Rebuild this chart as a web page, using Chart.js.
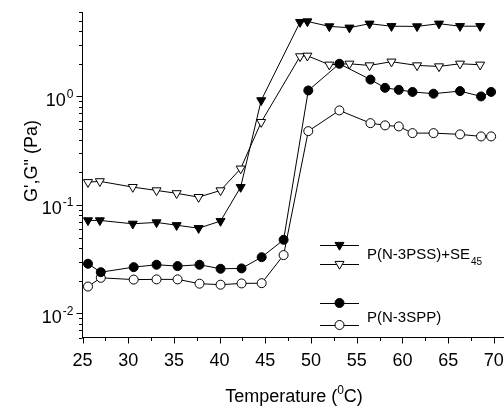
<!DOCTYPE html>
<html>
<head>
<meta charset="utf-8">
<script src="https://cdn.jsdelivr.net/npm/chart.js@4/dist/chart.umd.min.js"></script>
<style>
    html, body { margin: 0; padding: 0; background: #fff; overflow: hidden; }
    #wrap { width: 504px; height: 406px; position: relative; }
    #chart { display: block; }
</style>
</head>
<body>
<div id="wrap"><canvas id="chart"></canvas></div>
<script>
// temperatures (deg C) and moduli (Pa)
const tempPSS = [25.6, 26.9, 30.5, 33.1, 35.3, 37.7, 40.1, 42.3, 44.55, 48.8, 49.6, 52.0, 54.2, 56.4, 58.8, 61.6, 64.0, 66.3, 68.5];
const gPrimePSS = [0.072, 0.072, 0.067, 0.069, 0.065, 0.061, 0.071, 0.146, 0.92, 4.84, 4.91, 4.42, 4.30, 4.68, 4.44, 4.42, 4.68, 4.44, 4.44];
const gDoublePSS = [0.162, 0.165, 0.146, 0.136, 0.128, 0.118, 0.136, 0.216, 0.58, 2.34, 2.37, 1.96, 2.00, 1.93, 2.09, 1.93, 1.89, 2.00, 1.96];

const tempSPP = [25.6, 27.0, 30.6, 33.1, 35.4, 37.8, 40.1, 42.4, 44.6, 47.0, 49.7, 53.1, 56.5, 58.1, 59.6, 61.1, 63.4, 66.3, 68.6, 69.7];
const gPrimeSPP = [0.0287, 0.0240, 0.0267, 0.0281, 0.0273, 0.0281, 0.0258, 0.0260, 0.0330, 0.0477, 1.135, 2.00, 1.43, 1.20, 1.15, 1.10, 1.06, 1.12, 1.00, 1.10];
const gDoubleSPP = [0.0177, 0.0213, 0.0205, 0.0206, 0.0206, 0.0188, 0.0184, 0.0189, 0.0190, 0.0345, 0.479, 0.743, 0.567, 0.541, 0.529, 0.459, 0.459, 0.447, 0.428, 0.428];

const xTicks = [25, 30, 35, 40, 45, 50, 55, 60, 65, 70];
const yDecades = [-2, -1, 0];
const legendNames = ['P(N-3PSS)+SE', 'P(N-3SPP)'];
const legendSub = '45';

const FONT = 'Arial, "Liberation Sans", sans-serif';

function pairs(xs, ys) {
    return xs.map((x, i) => ({ x: x, y: ys[i] }));
}

function series(xs, ys, style, filled) {
    return {
        data: pairs(xs, ys),
        borderColor: '#000',
        borderWidth: 1,
        pointStyle: style,
        pointRotation: style === 'triangle' ? 180 : 0,
        pointRadius: style === 'triangle' ? 5.2 : 4.5,
        pointBorderWidth: 1,
        pointBorderColor: '#000',
        pointBackgroundColor: filled ? '#000' : '#fff',
        tension: 0
    };
}

const styles = [
    { pointStyle: 'triangle', rotation: 180, radius: 5.2, fill: '#000' },
    { pointStyle: 'triangle', rotation: 180, radius: 5.2, fill: '#fff' },
    { pointStyle: 'circle', rotation: 0, radius: 4.5, fill: '#000' },
    { pointStyle: 'circle', rotation: 0, radius: 4.5, fill: '#fff' }
];

// ticks, tick labels with superscripts, titles and legend
const decorations = {
    id: 'decorations',
    afterDraw(chart) {
        const ctx = chart.ctx;
        const xs = chart.scales.x;
        const ys = chart.scales.y;
        const area = chart.chartArea;
        ctx.save();
        ctx.strokeStyle = '#000';
        ctx.fillStyle = '#000';
        ctx.lineWidth = 1;

        // x ticks
        ctx.beginPath();
        for (let v = xs.min; v <= xs.max; v += 2.5) {
            const px = Math.round(xs.getPixelForValue(v)) + 0.5;
            const len = v % 5 === 0 ? 6 : 3.5;
            ctx.moveTo(px, area.bottom);
            ctx.lineTo(px, area.bottom + len);
        }
        // y ticks
        for (let e = -3; e <= 0; e++) {
            for (let s = 1; s <= 9; s++) {
                const v = s * Math.pow(10, e);
                if (v < ys.min * 0.999 || v > ys.max * 1.001) continue;
                const py = Math.round(ys.getPixelForValue(v)) + 0.5;
                const len = s === 1 ? 6 : 3.5;
                ctx.moveTo(area.left - len, py);
                ctx.lineTo(area.left, py);
            }
        }
        ctx.stroke();

        // x labels
        ctx.textBaseline = 'alphabetic';
        ctx.textAlign = 'center';
        ctx.font = '18px ' + FONT;
        xTicks.forEach(v => {
            ctx.fillText(String(v), xs.getPixelForValue(v), 366);
        });

        // y labels 10^n
        ctx.textAlign = 'left';
        yDecades.forEach(e => {
            const py = ys.getPixelForValue(Math.pow(10, e));
            const exp = String(e);
            ctx.font = '18px ' + FONT;
            const wBase = ctx.measureText('10').width;
            ctx.font = '12px ' + FONT;
            const wExp = ctx.measureText(exp).width;
            const right = area.left - 9;
            const x0 = right - wBase - wExp - 1;
            ctx.font = '18px ' + FONT;
            ctx.fillText('10', x0, py + 9.5);
            ctx.font = '12px ' + FONT;
            ctx.fillText(exp, x0 + wBase + 1, py + 1.5);
        });

        // x title with superscript
        ctx.font = '18px ' + FONT;
        const t1 = 'Temperature (';
        const t2 = 'C)';
        const w1 = ctx.measureText(t1).width;
        const w3 = ctx.measureText(t2).width;
        ctx.font = '12px ' + FONT;
        const w2 = ctx.measureText('0').width;
        const cx = 294;
        let tx = cx - (w1 + w2 + w3) / 2;
        ctx.font = '18px ' + FONT;
        ctx.fillText(t1, tx, 402);
        ctx.font = '12px ' + FONT;
        ctx.fillText('0', tx + w1, 394);
        ctx.font = '18px ' + FONT;
        ctx.fillText(t2, tx + w1 + w2, 402);

        // y title
        ctx.save();
        ctx.translate(37, 161);
        ctx.rotate(-Math.PI / 2);
        ctx.textAlign = 'center';
        ctx.font = '18px ' + FONT;
        ctx.fillText('G\',G" (Pa)', 0, 0);
        ctx.restore();

        // legend
        const rows = [245, 264, 303, 325];
        rows.forEach((y, i) => {
            ctx.beginPath();
            ctx.moveTo(320, y + 0.5);
            ctx.lineTo(359, y + 0.5);
            ctx.stroke();
            ctx.fillStyle = styles[i].fill;
            ctx.strokeStyle = '#000';
            Chart.helpers.drawPoint(ctx, {
                pointStyle: styles[i].pointStyle,
                rotation: styles[i].rotation,
                radius: styles[i].radius,
                borderWidth: 1
            }, 339.5, y);
        });
        ctx.fillStyle = '#000';
        ctx.textAlign = 'left';
        ctx.font = '15px ' + FONT;
        ctx.fillText(legendNames[0], 367, 259);
        const wName = ctx.measureText(legendNames[0]).width;
        ctx.font = '10px ' + FONT;
        ctx.fillText(legendSub, 367 + wName + 1, 265);
        ctx.font = '15px ' + FONT;
        ctx.fillText(legendNames[1], 367, 322);

        ctx.restore();
    }
};

new Chart(document.getElementById('chart'), {
    type: 'line',
    data: {
        datasets: [
            series(tempPSS, gPrimePSS, 'triangle', true),
            series(tempPSS, gDoublePSS, 'triangle', false),
            series(tempSPP, gPrimeSPP, 'circle', true),
            series(tempSPP, gDoubleSPP, 'circle', false)
        ]
    },
    options: {
        responsive: true,
        maintainAspectRatio: false,
        animation: false,
        layout: {
            autoPadding: false,
            padding: { top: 12, right: 1, left: 0, bottom: 0 }
        },
        plugins: {
            legend: { display: false },
            tooltip: { enabled: false }
        },
        scales: {
            x: {
                type: 'linear',
                min: 25,
                max: 71,
                afterFit: scale => { scale.height = 68.5; },
                grid: { display: false, drawTicks: false },
                border: { display: true, color: '#000', width: 1 },
                ticks: { display: false }
            },
            y: {
                type: 'logarithmic',
                min: 0.006,
                max: 6,
                afterFit: scale => { scale.width = 82.5; },
                grid: { display: false, drawTicks: false },
                border: { display: true, color: '#000', width: 1 },
                ticks: { display: false }
            }
        }
    },
    plugins: [decorations]
});
</script>
</body>
</html>
